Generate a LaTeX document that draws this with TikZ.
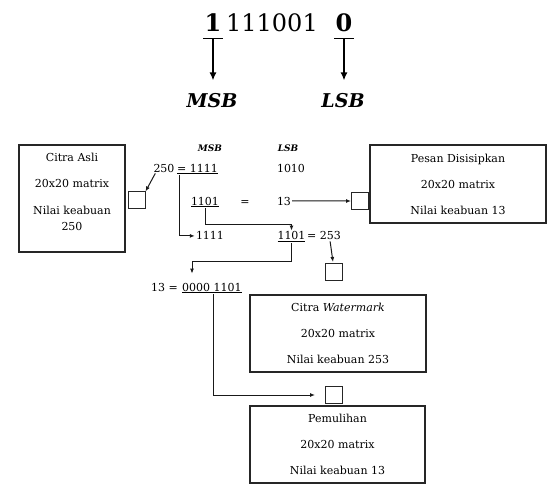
\documentclass[tikz,border=0pt]{standalone}
\usepackage{fontspec}
\setmainfont{DejaVu Serif}
\usetikzlibrary{calc,arrows.meta}
\tikzset{>={Latex[length=5pt,width=4pt]}}
\tikzstyle{box}=[draw=black!85,line width=1.1pt,align=center,font=\fontsize{11}{13}\selectfont]
\tikzstyle{pix}=[draw=black!85,line width=1pt,minimum size=17pt,inner sep=0pt]
\tikzstyle{txt}=[font=\fontsize{11}{13}\selectfont,anchor=base,inner sep=1pt]
\tikzstyle{bit}=[font=\fontsize{24}{28}\selectfont,anchor=base,inner xsep=1pt,inner ysep=6pt]
\tikzstyle{sig}=[font=\fontsize{19}{22}\selectfont\bfseries\itshape,anchor=base]
\tikzstyle{sigs}=[font=\fontsize{9}{11}\selectfont\bfseries\itshape,anchor=base]
\tikzstyle{wire}=[black!90,line width=1pt]

\begin{document}
\begin{tikzpicture}[x=1pt,y=-1pt]
  \useasboundingbox (0,0) rectangle (558,487);
  % BITS
  \node[bit] (b1) at (213,32) {\textbf{1}};
  \node[bit] (bmid) at (272,32) {111001};
  \node[bit] (b0) at (344,32) {\textbf{0}};
  \node[sig] (msbT) at (212,108) {MSB};
  \node[sig] (lsbT) at (343,108) {LSB};
  \foreach \b/\s in {b1/msbT,b0/lsbT}{
    \draw[line width=1.3pt] (\b.south west) -- (\b.south east);
    \draw[-{Latex[length=8pt,width=7pt]},line width=1.3pt,shorten >=10pt]
      (\b.south) -- (\b.south |- \s.north);
  }

  % BOXES
  \node[box,minimum width=106pt,minimum height=107pt] (asli) at (72,198.5) {};
  \node[txt,anchor=north,align=center] (asliT) at ($(asli.north)+(0,7)$)
    {Citra Asli\\[13pt]20x20 matrix\\[14pt]Nilai keabuan\\[3pt]250};
  \node[box,minimum width=176pt,minimum height=78pt] (pesan) at (458,184)
    {Pesan Disisipkan\\[13pt]20x20 matrix\\[13pt]Nilai keabuan 13};
  \node[box,minimum width=176pt,minimum height=77pt] (wm) at (338,333.5)
    {Citra \textit{Watermark}\\[13pt]20x20 matrix\\[13pt]Nilai keabuan 253};
  \node[box,minimum width=175pt,minimum height=77pt] (pulih) at (337.5,444.5)
    {Pemulihan\\[13pt]20x20 matrix\\[13pt]Nilai keabuan 13};

  % PIXELS
  \node[pix] (p1) at (136.5,200.5) {};
  \node[pix] (p2) at (360,201) {};
  \node[pix] (p3) at (334,272) {};
  \node[pix] (p4) at (334,395) {};

  % BIT PLANES
  \node[sigs] (msbS) at (210,152) {MSB};
  \node[sigs] (lsbS) at (288,152) {LSB};
  \node[txt] (v250) at (164,172) {250};
  \node[txt,anchor=base west] (hiA) at (176,172) {\underline{= 1111}};
  \node[txt] (loA) at (291,172) {1010};
  \node[txt] (hiB) at (205,205) {\underline{1101}};
  \node[txt] (eqB) at (245,205) {=};
  \node[txt] (v13) at (284,205) {13};
  \node[txt] (hiC) at (210,240) {1111};
  \node[txt] (loC) at (291.5,240) {\underline{1101}};
  \node[txt,anchor=base west] (v253) at (306,240) {= 253};
  \node[txt,anchor=base east] (v13b) at (179,291) {13 =};
  \node[txt,anchor=base west] (rec) at (181,291) {\underline{0000 1101}};

  % CONNECTORS
  \draw[wire,->] ([xshift=3pt]v250.south west) -- (p1.north east);
  \draw[wire,->] ([xshift=3pt]hiA.south west) |- (hiC.west);
  \draw[wire,->] (hiB.south) -- ++(0,16) -| (loC.north);
  \draw[wire,->,shorten >=8pt] (loC.south) -- ++(0,18) -| ([xshift=11pt]rec.north west);
  \draw[wire,->] (v13.east) -- (p2.west);
  \draw[wire,->] ([xshift=-12pt]v253.south east) -- ([xshift=-1pt,yshift=1pt]p3.north);
  \draw[wire,->] ([xshift=32pt]rec.south west) |- ([xshift=-10pt]p4.west);
\end{tikzpicture}
\end{document}
